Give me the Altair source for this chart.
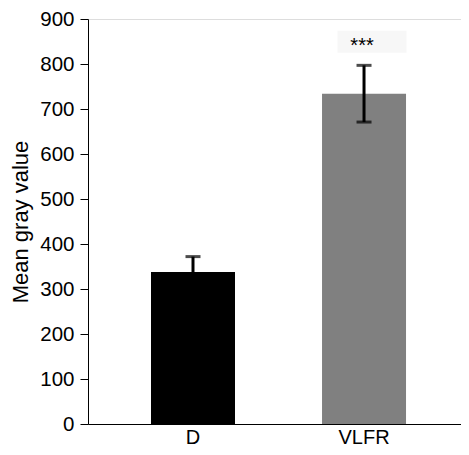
import altair as alt
import pandas as pd

groups = ["D", "VLFR"]
means = [338, 734]
errors = [34, 63]
colors = ["#000000", "#808080"]

sig_group = ["VLFR"]
sig_label = ["***"]
sig_y = [826]
sig_box_lo = [825]
sig_box_hi = [874]

df = pd.DataFrame({
    "group": groups,
    "mean": means,
    "lo": [m - e for m, e in zip(means, errors)],
    "hi": [m + e for m, e in zip(means, errors)],
    "color": colors,
})
sig = pd.DataFrame({"group": sig_group, "label": sig_label, "y": sig_y,
                    "lo": sig_box_lo, "hi": sig_box_hi})

FONT = "Liberation Sans"

x = alt.X("group:N", sort=groups, title=None,
          scale=alt.Scale(paddingInner=0.509, paddingOuter=0.345, align=0.534),
          axis=alt.Axis(labelAngle=0, ticks=False, labelFontSize=20, labelFont=FONT,
                        labelColor="black", labelPadding=3, domainColor="black",
                        domainWidth=1))
y_scale = alt.Scale(domain=[0, 900], nice=False)

bars = alt.Chart(df).mark_bar(size=84).encode(
    x=x,
    y=alt.Y("mean:Q", scale=y_scale, title="Mean gray value",
            axis=alt.Axis(values=list(range(0, 901, 100)), tickSize=8, tickColor="black",
                          tickWidth=1, domainColor="black", domainWidth=1,
                          labelFontSize=20.5, labelFont=FONT, labelColor="black",
                          labelPadding=6, titleFontSize=22, titleFont=FONT,
                          titleFontWeight="normal", titleColor="black", titlePadding=7,
                          grid=False)),
    color=alt.Color("color:N", scale=None),
)

err = alt.Chart(df).mark_rule(color="black", strokeWidth=3).encode(
    x=alt.X("group:N", sort=groups), y="lo:Q", y2="hi:Q")
cap_hi = alt.Chart(df).mark_tick(color="black", thickness=3, size=15).encode(
    x=alt.X("group:N", sort=groups), y="hi:Q")
cap_lo = alt.Chart(df).mark_tick(color="black", thickness=3, size=15).encode(
    x=alt.X("group:N", sort=groups), y="lo:Q")

box = alt.Chart(sig).mark_bar(size=69, xOffset=8, color="#f7f7f7").encode(
    x=alt.X("group:N", sort=groups), y="lo:Q", y2="hi:Q")
txt = alt.Chart(sig).mark_text(fontSize=20, font=FONT, color="black",
                               baseline="alphabetic", xOffset=-2).encode(
    x=alt.X("group:N", sort=groups), y="y:Q", text="label:N")

chart = alt.layer(bars, err, cap_hi, cap_lo, box, txt).properties(
    width=373, height=405,
    autosize=alt.AutoSizeParams(type="none"),
    padding={"left": 80, "top": 11, "right": 0, "bottom": 23},
).configure_view(stroke="black", strokeWidth=1).configure(background="white")

chart.save("out.html", embed_options={"renderer": "svg", "actions": False})
